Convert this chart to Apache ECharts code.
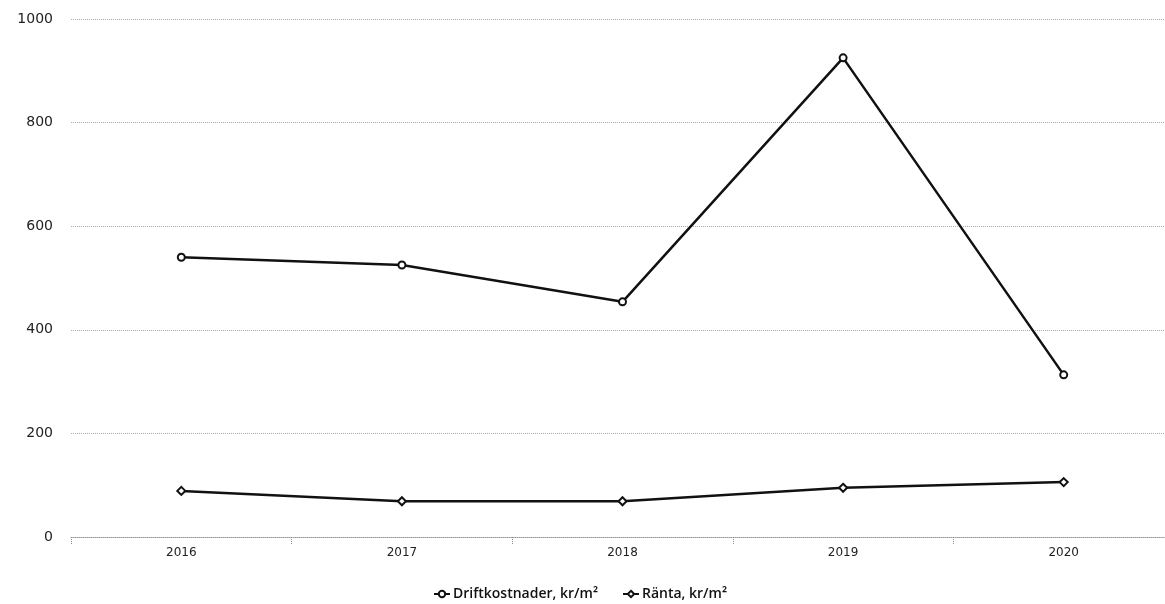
<!DOCTYPE html>
<html><head><meta charset="utf-8">
<script src="https://cdn.jsdelivr.net/npm/echarts@6/dist/echarts.min.js"></script>
<style>html,body{margin:0;padding:0;background:#fff;overflow:hidden}#c{width:1185px;height:604px}</style>
</head><body><div id="c"></div>
<script>
const categories = ['2016','2017','2018','2019','2020'];
const drift = [540, 525, 454, 925, 313];
const ranta = [89, 69, 69, 95, 106];
const yTicks = [0, 200, 400, 600, 800, 1000];

const chart = echarts.init(document.getElementById('c'));
chart.setOption({
  animation: false,
  backgroundColor: '#fff',
  grid: { left: 71, top: 19, width: 1103, height: 518 },
  legend: {
    top: 582, left: 428, itemGap: 24, itemWidth: 16, itemHeight: 8,
    textStyle: { fontFamily: 'Open Sans', fontSize: 14, color: '#111', fontWeight: 600, padding: [0,0,0,-2] },
    data: ['Driftkostnader, kr/m²', 'Ränta, kr/m²']
  },
  xAxis: {
    type: 'category', data: categories, boundaryGap: true,
    axisLine: { lineStyle: { color: '#999', type: 'dotted', width: 1 } },
    axisTick: { show: true, length: 8, lineStyle: { color: '#888', type: 'dotted' } },
    axisLabel: { fontFamily: 'DejaVu Sans', fontSize: 12, color: '#222', margin: 10 }
  },
  yAxis: {
    type: 'value', min: yTicks[0], max: yTicks[yTicks.length-1], interval: 200,
    axisLine: { show: false }, axisTick: { show: false },
    axisLabel: { fontFamily: 'DejaVu Sans', fontSize: 14, color: '#222', margin: 18,
                 formatter: v => String(v) },
    splitLine: { lineStyle: { color: '#aaa', type: 'dotted', width: 1 } }
  },
  series: [
    { name: 'Driftkostnader, kr/m²', type: 'line', data: drift,
      symbol: 'emptyCircle', symbolSize: 7,
      lineStyle: { color: '#111', width: 2.5 },
      itemStyle: { color: '#111', borderWidth: 2 } },
    { name: 'Ränta, kr/m²', type: 'line', data: ranta,
      symbol: 'emptyDiamond', symbolSize: 8,
      lineStyle: { color: '#111', width: 2.5 },
      itemStyle: { color: '#111', borderWidth: 2 } }
  ]
});
</script></body></html>
